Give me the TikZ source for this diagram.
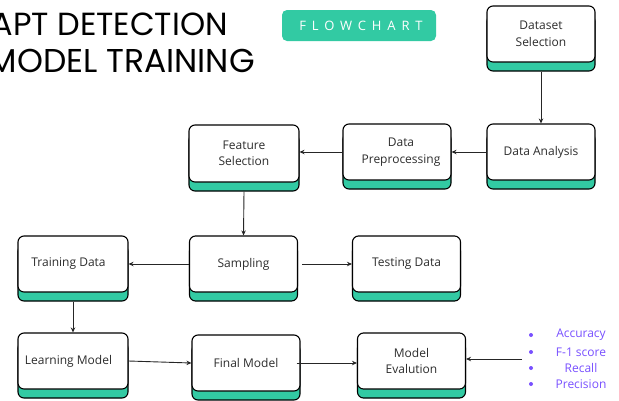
\documentclass[tikz,border=0pt]{standalone}
\usepackage{fontspec}
\setmainfont{Open Sans}
\newfontfamily\titlefont{Poppins}
\newfontfamily\badgefont[LetterSpace=45]{Open Sans}
\usetikzlibrary{arrows.meta}
\definecolor{mint}{RGB}{50,202,163}
\definecolor{violetc}{RGB}{120,80,255}
\definecolor{txt}{RGB}{45,45,45}
\begin{document}
\begin{tikzpicture}[x=1pt,y=-1pt,
  flowbox/.style={draw=black, line width=1.1pt, fill=white, rounded corners=6pt,
    minimum width=108pt, minimum height=56pt, align=center, inner sep=2pt,
    font=\fontsize{12}{16.5}\selectfont, text=txt,
    preaction={draw=black, fill=mint, line width=1.1pt, transform canvas={yshift=-9pt}}},
  conn/.style={-{Stealth[length=5pt,width=4.5pt]}, line width=0.9pt, draw=black!85},
  bullet/.style={text=violetc, font=\fontsize{12}{13}\selectfont, inner sep=0pt},
  dot/.style={fill=violetc, draw=none, circle, inner sep=0pt, minimum size=4pt}]
\useasboundingbox (0,0) rectangle (619,400);
% title
\node[anchor=base east, inner sep=0pt, font=\titlefont\fontsize{32}{32}\selectfont] (t1) at (228,35) {APT DETECTION};
\node[anchor=base east, inner sep=0pt, font=\titlefont\fontsize{33}{33}\selectfont] (t2) at (255,72) {MODEL TRAINING};
% badge
\node[fill=mint, rounded corners=5pt, minimum width=154pt, minimum height=31pt, text=white, inner sep=0pt] (badge) at (359,25.5) {\hspace*{4pt}\badgefont\fontsize{13}{13}\selectfont FLOWCHART};
% boxes
\node[flowbox] (ds) at (541,34) {Dataset\\Selection};
\node[flowbox] (da) at (541,152) {Data Analysis};
\node[flowbox] (dp) at (397,152) {\hspace*{8pt}Data\\\hspace*{8pt}Preprocessing};
\node[flowbox, minimum width=110pt, minimum height=57pt] (fs) at (244,153.5) {Feature\\Selection};
\node[flowbox] (sa) at (243.5,264) {Sampling};
\node[flowbox, minimum width=110pt] (tr) at (73,264) {Training Data\hspace*{9pt}};
\node[flowbox] (te) at (406.5,264) {Testing Data};
\node[flowbox, minimum width=110pt] (lm) at (73,361) {Learning Model\hspace*{9pt}};
\node[flowbox] (fm) at (246,363) {Final Model};
\node[flowbox] (me) at (411.5,361) {Model\\Evalution};
% metrics
\node[dot] (d1) at (531,335) {};
\node[dot] (d2) at (531,352) {};
\node[dot] (d3) at (531,368) {};
\node[dot] (d4) at (531,384) {};
\node[bullet] (m1) at (581,335) {Accuracy};
\node[bullet] (m2) at (581,352) {F-1 score};
\node[bullet] (m3) at (581,368) {Recall};
\node[bullet] (m4) at (581,384) {Precision};
\coordinate (mstart) at (522,359);
% connectors
\draw[conn] ([yshift=-9pt]ds.south) -- (da.north);
\draw[conn] (da.west) -- (dp.east);
\draw[conn] (dp.west) -- (fs.east |- dp.west);
\draw[conn] ([yshift=-9pt]fs.south) -- (sa.north);
\draw[conn] (sa.west) -- (tr.east);
\draw[conn] ([xshift=4pt]sa.east) -- (te.west);
\draw[conn] ([yshift=-9pt]tr.south) -- (lm.north);
\draw[conn] (lm.east) -- (fm.west);
\draw[conn] ([xshift=-4pt]fm.east) -- (me.west |- fm.east);
\draw[conn] (mstart) -- (me.east |- mstart);
\end{tikzpicture}
\end{document}
